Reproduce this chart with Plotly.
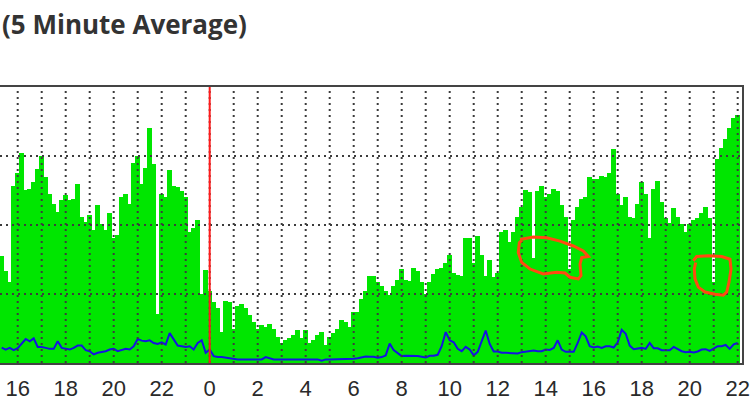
import pandas as pd
import plotly.graph_objects as go

# ---- data (10-minute samples) ----
start_time = "2024-01-01 15:20"
step = "10min"

in_vals = [
    1.55, 1.33, 1.17, 2.57, 2.76, 3.05, 2.51, 2.52, 2.62, 2.81,
    3.00, 2.69, 2.45, 2.31, 2.19, 2.36, 2.43, 2.36, 2.38, 2.60,
    2.12, 2.05, 2.14, 1.93, 2.29, 2.02, 1.93, 2.17, 1.81, 1.86,
    2.40, 2.45, 2.31, 2.90, 3.00, 2.60, 2.83, 3.40, 2.88, 0.71,
    2.45, 2.40, 2.79, 2.57, 2.55, 2.50, 2.40, 1.90, 1.95, 2.07,
    1.00, 1.35, 1.05, 0.88, 0.79, 0.45, 0.90, 0.88, 0.50, 0.83,
    0.86, 0.79, 0.69, 0.60, 0.50, 0.55, 0.52, 0.57, 0.50, 0.38,
    0.29, 0.33, 0.36, 0.40, 0.48, 0.36, 0.48, 0.29, 0.33, 0.40,
    0.45, 0.26, 0.38, 0.43, 0.50, 0.62, 0.60, 0.52, 0.74, 0.74,
    0.93, 1.05, 1.26, 1.26, 1.17, 1.11, 1.05, 0.98, 1.12, 1.21,
    1.36, 1.20, 1.19, 1.38, 1.33, 1.17, 1.00, 1.17, 1.29, 1.36,
    1.37, 1.45, 1.57, 1.30, 1.27, 1.26, 1.81, 1.81, 1.45, 1.84,
    1.57, 1.26, 1.50, 1.24, 1.31, 1.90, 1.93, 1.76, 1.90, 2.11,
    2.26, 2.51, 2.48, 1.52, 2.50, 2.57, 2.40, 2.45, 2.52, 2.50,
    2.29, 2.12, 1.36, 2.07, 2.26, 2.38, 2.40, 2.69, 2.67, 2.67,
    2.71, 2.69, 2.76, 3.10, 2.45, 2.29, 2.40, 2.12, 2.10, 2.31,
    2.62, 2.45, 1.81, 2.52, 2.64, 2.33, 2.10, 2.03, 2.24, 2.11,
    2.02, 1.90, 2.02, 2.07, 2.10, 2.17, 2.26, 2.10, 1.17, 2.95,
    3.12, 3.24, 3.40, 3.55, 3.60,
]

out_vals = [
    0.224, 0.195, 0.219, 0.186, 0.214, 0.281, 0.348, 0.314, 0.357, 0.233,
    0.233, 0.219, 0.205, 0.205, 0.314, 0.219, 0.210, 0.195, 0.219, 0.252,
    0.252, 0.186, 0.171, 0.124, 0.148, 0.157, 0.171, 0.195, 0.205, 0.171,
    0.190, 0.205, 0.195, 0.243, 0.348, 0.324, 0.314, 0.329, 0.290, 0.276,
    0.300, 0.267, 0.433, 0.338, 0.252, 0.243, 0.233, 0.243, 0.195, 0.290,
    0.330, 0.148, 0.195, 0.100, 0.086, 0.086, 0.076, 0.062, 0.052, 0.052,
    0.052, 0.052, 0.052, 0.052, 0.052, 0.052, 0.086, 0.070, 0.052, 0.052,
    0.052, 0.052, 0.052, 0.052, 0.052, 0.052, 0.052, 0.052, 0.052, 0.052,
    0.033, 0.052, 0.052, 0.052, 0.052, 0.052, 0.052, 0.057, 0.062, 0.070,
    0.081, 0.095, 0.090, 0.090, 0.076, 0.086, 0.110, 0.281, 0.186, 0.138,
    0.100, 0.105, 0.105, 0.110, 0.100, 0.090, 0.081, 0.105, 0.105, 0.119,
    0.243, 0.448, 0.329, 0.300, 0.205, 0.171, 0.233, 0.195, 0.110, 0.162,
    0.314, 0.471, 0.276, 0.167, 0.167, 0.148, 0.148, 0.148, 0.148, 0.138,
    0.157, 0.167, 0.167, 0.181, 0.171, 0.171, 0.195, 0.190, 0.219, 0.329,
    0.195, 0.162, 0.162, 0.162, 0.290, 0.443, 0.386, 0.243, 0.224, 0.238,
    0.219, 0.243, 0.243, 0.224, 0.300, 0.480, 0.424, 0.252, 0.200, 0.205,
    0.219, 0.205, 0.290, 0.214, 0.214, 0.186, 0.190, 0.186, 0.233, 0.205,
    0.171, 0.157, 0.162, 0.152, 0.167, 0.195, 0.200, 0.176, 0.210, 0.243,
    0.243, 0.262, 0.205, 0.271, 0.290,
]

title_text = "(5 Minute Average)"
x_range = ["2024-01-01 15:15:45", "2024-01-02 22:10:45"]
midnight = "2024-01-02 00:00"
grid_hours = pd.date_range("2024-01-01 16:00", "2024-01-02 22:00", freq="1h")
grid_levels = [1, 2, 3]
y_max = 4

times = pd.date_range(start_time, periods=len(in_vals), freq=step)

GREEN = "#00e600"
BLUE = "#1414e0"
GRID = "#3c3c3c"
FRAME = "#444444"

fig = go.Figure()
fig.add_trace(go.Bar(
    x=times, y=in_vals, width=680000,
    marker=dict(color=GREEN, line=dict(width=0)),
    hoverinfo="skip",
))
fig.add_trace(go.Scatter(
    x=times, y=out_vals, mode="lines",
    line=dict(color=BLUE, width=2),
    hoverinfo="skip",
))

shapes = []
for h in grid_hours:
    shapes.append(dict(type="line", xref="x", yref="paper", x0=h, x1=h, y0=0, y1=1,
                       layer="above", line=dict(color=GRID, width=2, dash="2px,4px")))
for lv in grid_levels:
    shapes.append(dict(type="line", xref="paper", yref="y", x0=0, x1=1, y0=lv, y1=lv,
                       layer="above", line=dict(color=GRID, width=2, dash="2px,4px")))
shapes.append(dict(type="line", xref="x", yref="paper", x0=midnight, x1=midnight, y0=0, y1=1,
                   layer="above", line=dict(color="#ff1a1a", width=2)))

# hand-drawn highlight loops (pixel coordinates of the 750x401 picture)
PLOT_W, PLOT_BOTTOM, PLOT_H = 742.0, 367.0, 280.0
loop1 = [(520, 241.7), (533.3, 239.3), (546.7, 240), (560, 243.3), (573.3, 248.3),
         (583.3, 253.3), (588.3, 259), (581.7, 260), (580, 266.7), (581, 278.3),
         (578.3, 281.7), (570, 280), (565, 275.7), (556.7, 275), (543.3, 276.7),
         (530, 271.7), (521.7, 265), (518.3, 255), (519.3, 245), (523.3, 241)]
loop2 = [(693.3, 263.3), (696.7, 259), (708.3, 258.3), (721.7, 259), (730, 261.7),
         (731, 271.7), (729, 285), (726.7, 295), (723.3, 298.3), (715, 297.3),
         (705, 295), (698.3, 290), (695, 281.7), (694.3, 271.7), (695.7, 265)]


def to_path(pts):
    segs = []
    for k, (px, py) in enumerate(pts):
        xp = px / PLOT_W
        yp = (PLOT_BOTTOM - py) / PLOT_H
        segs.append(("M" if k == 0 else "L") + f"{xp:.4f},{yp:.4f}")
    return " ".join(segs)


for lp in (loop1, loop2):
    shapes.append(dict(type="path", xref="paper", yref="paper", path=to_path(lp),
                       layer="above", line=dict(color="#ff4a10", width=3)))

fig.update_layout(
    width=750, height=401,
    margin=dict(l=0, r=8, t=87, b=34, pad=0),
    paper_bgcolor="white", plot_bgcolor="white",
    showlegend=False, bargap=0,
    shapes=shapes,
    annotations=[dict(
        text=title_text, xref="paper", yref="paper", x=0, y=(PLOT_BOTTOM - 23) / PLOT_H,
        xanchor="left", yanchor="middle", showarrow=False,
        font=dict(family="Open Sans", size=26, color="#333333", weight="bold"),
    )],
    xaxis=dict(
        type="date", range=x_range, showgrid=False, zeroline=False,
        tick0="2024-01-01 00:00", dtick=2 * 3600000, tickformat="%-H",
        ticks="", ticklabelstandoff=5,
        tickfont=dict(family="Liberation Sans", size=22, color="#2a2a2a"),
        showline=True, mirror=True, linecolor=FRAME, linewidth=2, layer="above traces",
        fixedrange=True,
    ),
    yaxis=dict(
        range=[0, y_max], showgrid=False, zeroline=False, showticklabels=False,
        ticks="", side="right", showline=True, linecolor=FRAME, linewidth=2,
        layer="above traces", fixedrange=True,
    ),
)

fig.write_html(
    "out.html",
    config={"displayModeBar": False},
    post_script="document.body.style.margin='0';document.body.style.overflow='hidden';",
)
